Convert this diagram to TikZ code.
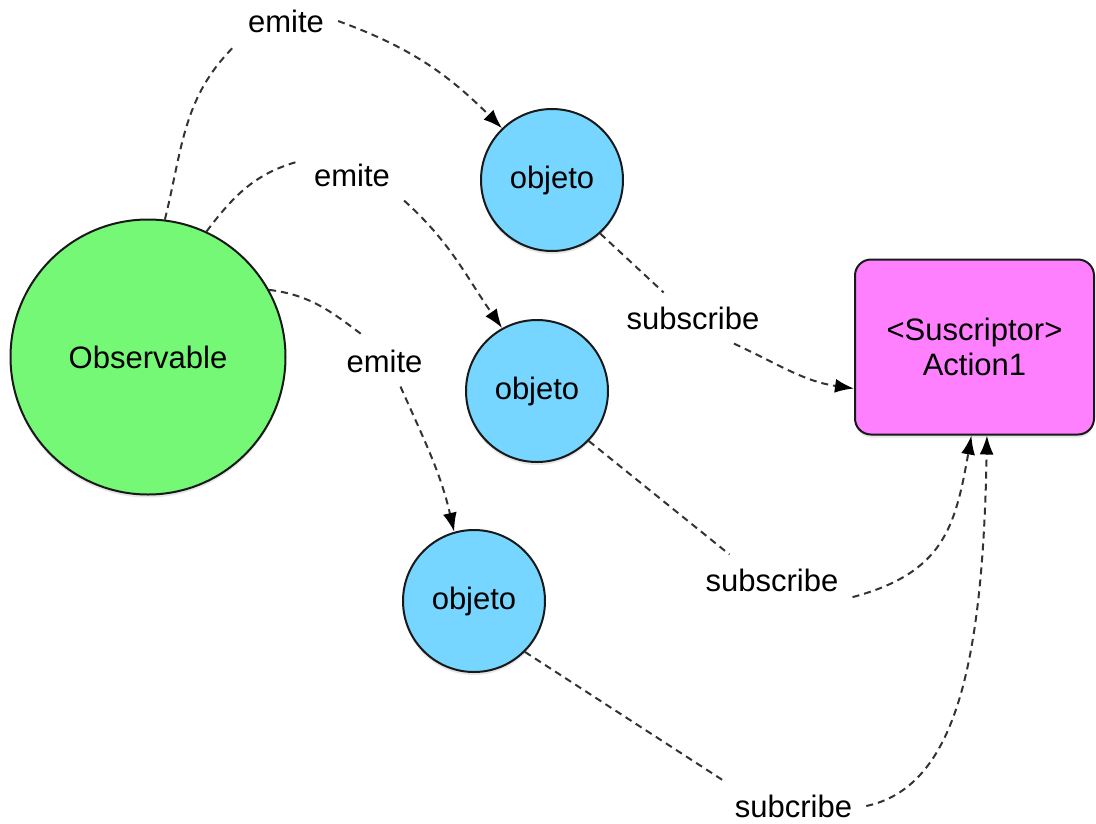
\documentclass[tikz,border=0pt]{standalone}
\usepackage{fontspec}
\setmainfont{Liberation Sans}
\usetikzlibrary{arrows.meta,shadows}

\definecolor{obsgreen}{HTML}{74F876}
\definecolor{objblue}{HTML}{76D6FF}
\definecolor{suspink}{HTML}{FF80FF}

\begin{document}
\begin{tikzpicture}[x=1pt,y=-1pt,
	font=\fontsize{31}{35.6}\selectfont,
	outlined/.style={draw=black!90,line width=2pt,
		drop shadow={shadow xshift=0pt,shadow yshift=-3pt,opacity=.2}},
	bigcirc/.style={outlined,circle,fill=obsgreen,minimum size=275pt,inner sep=0pt},
	objcirc/.style={outlined,circle,fill=objblue,minimum size=142pt,inner sep=0pt},
	susbox/.style={outlined,rectangle,rounded corners=16pt,fill=suspink,
		minimum width=239pt,minimum height=175pt,align=center},
	lbl/.style={inner sep=14pt},
	link/.style={draw=black!80,line width=2pt,dash pattern=on 7pt off 5pt},
	emit/.style={link,-{Latex[length=19pt,width=14pt,color=black]}}]
	\useasboundingbox (0,0) rectangle (1096,823);

	%shapes
	\node[bigcirc] (obs) at (148,357) 	{Observable};
	\node[objcirc] (ob1) at (552,180) 	{objeto};
	\node[objcirc] (ob2) at (537,391) 	{objeto};
	\node[objcirc] (ob3) at (474,601) 	{objeto};
	\node[susbox] (sus) at (974.5,347) 	{\textless Suscriptor\textgreater\\Action1};

	%labels
	\node[lbl] (em1) at (286,21) 		{emite};
	\node[lbl] (em2) at (352,175) 		{emite};
	\node[lbl] (em3) at (384.5,361) 	{emite};
	\node[lbl] (sb1) at (693,318) 		{subscribe};
	\node[lbl] (sb2) at (772,580) 		{subscribe};
	\node[lbl] (sb3) at (793.5,806) 	{subcribe};

	%emite
	\draw[link]	(obs.83) to[out=76,in=225] (em1.south west);
	\draw[emit]	(em1.east) to[out=-20,in=135] (ob1.134);
	\draw[link]	(obs.65) to[out=53,in=195] (em2.165);
	\draw[emit]	(em2.south east) to[out=-42,in=125] (ob2.119);
	\draw[link]	(obs.29) to[out=-7,in=143] (em3.130);
	\draw[emit]	(em3.-58) to[out=-66,in=103] (ob3.106);

	%subscribe
	\draw[link]	(ob1.-48) -- (sb1.139);
	\draw[emit]	(sb1.-32) to[out=-25,in=172] (sus.199);
	\draw[link]	(ob2.-44) -- (sb2.149);
	\draw[emit]	(sb2.-12) to[out=15,in=-100,looseness=1.2] (sus.-92);
	\draw[link]	(ob3.-45) -- (sb3.160);
	\draw[emit]	(sb3.east) to[out=12,in=-91,out looseness=.6,in looseness=1.5] (sus.-82);
\end{tikzpicture}
\end{document}
